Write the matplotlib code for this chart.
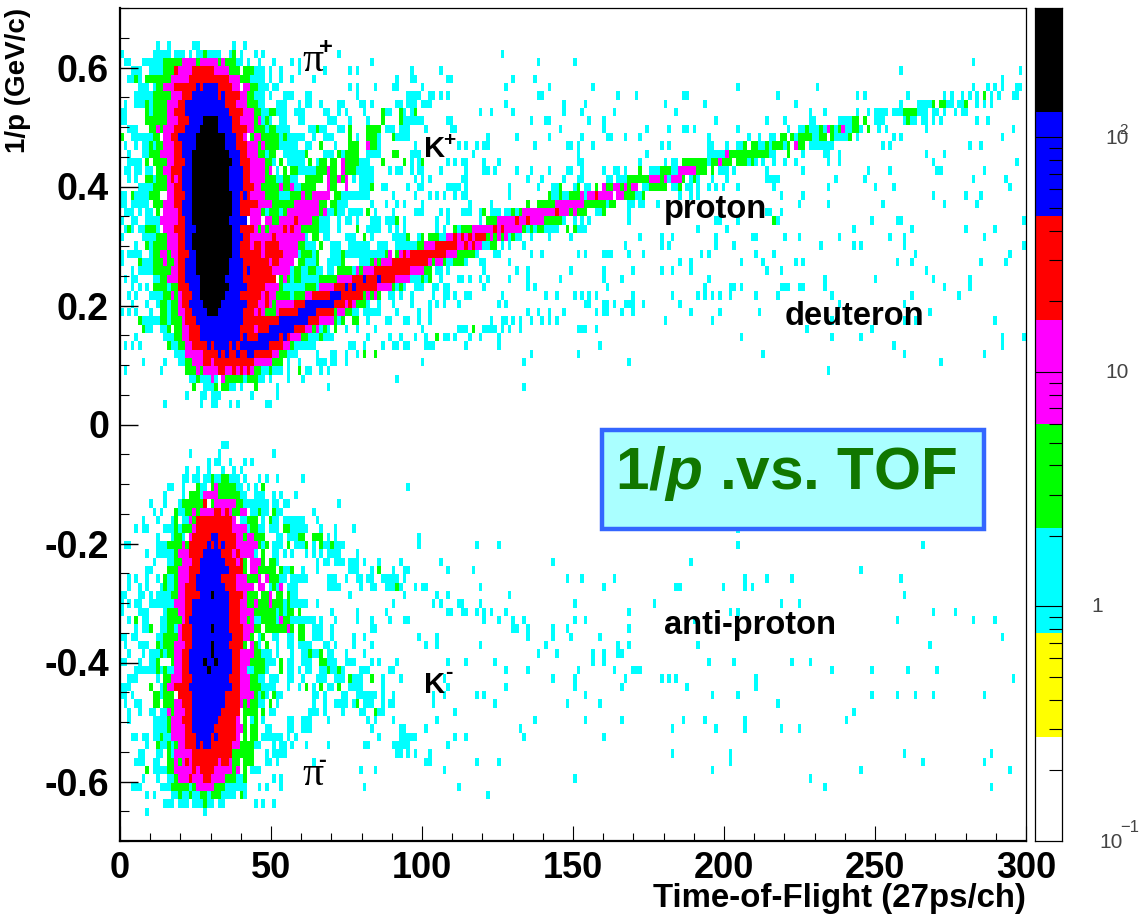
import numpy as np
import matplotlib
matplotlib.use('Agg')
import matplotlib.pyplot as plt
from matplotlib.colors import ListedColormap, BoundaryNorm
from matplotlib.patches import Rectangle
from matplotlib.ticker import LogLocator, NullFormatter, FixedLocator, FixedFormatter, MultipleLocator

plt.rcParams['font.family'] = ['Liberation Sans', 'DejaVu Sans']
plt.rcParams['mathtext.fontset'] = 'custom'
plt.rcParams['mathtext.rm'] = 'Liberation Sans:bold'
plt.rcParams['mathtext.it'] = 'Liberation Sans:bold:italic'

# histogram binning
n_tof_bins = 250
n_inv_p_bins = 100
tof_range = (0, 300)
inv_p_range = (0.7, -0.7)

# counts per colour band, c=cyan g=green m=magenta r=red b=blue k=black
band_counts = {'c': 1.0, 'g': 3.0, 'm': 10.0, 'r': 30.0, 'b': 80.0, 'k': 200.0}
level_edges = [0.1, 0.278, 0.772, 2.15, 5.97, 16.6, 46.0, 128.0, 356.0]
level_colors = ['#ffffff', '#ffff00', '#00ffff', '#00ff00', '#ff00ff', '#ff0000', '#0000ff', '#000000']

# bin runs per row, "g12:17" = green in tof bins 12..16, plain number = one cyan bin
# positive 1/p blob, rows 4 to 47
pi_plus_rows = [
    "c10:11 c13:14 c20:22 c31:32 c34:35",
    "c0:1 c9:14 c15:18 c19:20 c21:23 g23:24 c24:28 c30:31 g31:32 c33:34 c37:38 c39:40 c60:61",
    "c1:3 c6:12 g12:17 m17:21 g21:22 m22:27 g27:28 m28:29 g29:32 c32:34 c35:36 c38:39 c42:43 c47:48 c49:50 c69:70",
    "c3:6 c8:12 g12:15 r15:16 m16:20 r20:26 m26:30 g30:33 g34:37 c37:40 c41:42 c44:45 c49:50 c56:57 c63:64 c65:66",
    "c2:4 g4:5 c5:6 g7:14 m14:19 r19:30 m30:33 g33:36 c36:40 c41:42 c44:45 c47:48 c53:54 c76:77",
    "c5:8 c9:10 g10:12 m12:15 r15:21 b21:22 r22:23 b23:27 r27:31 m31:33 m34:36 g36:38 c38:41 c42:44 c63:64 c65:66 c70:71 c75:77",
    "c4:9 g9:14 m14:17 r17:20 b20:27 r27:28 b28:29 r29:33 m33:35 g35:37 c37:40 c41:42 c45:48 c51:53 c65:66",
    "c1:2 c4:7 g7:8 c8:9 g9:13 m13:16 r16:18 b18:29 r29:32 m32:35 g35:38 c38:40 c43:46 c49:50 c51:53 c55:56 c60:62 c66:68 c69:70 c76:78 c79:80",
    "c0:2 g7:8 c8:9 g9:13 m13:15 r15:18 b18:30 r30:34 m34:37 g37:39 c39:41 g41:43 c43:46 c48:51 c56:58 c60:61 c62:63 c67:68 g72:73 c73:75 g77:78 c78:79",
    "c0:2 g7:13 m13:16 r16:19 b19:23 k23:27 b27:31 r31:33 m33:37 g37:38 m38:39 c39:40 g40:41 c41:42 c44:46 c49:51 c57:60 c63:64 c68:69 g72:73 g77:78 c78:80",
    "c2:5 g8:10 m10:11 g11:12 m12:15 r15:18 b18:22 k22:27 b27:31 r31:35 m35:37 g37:40 c40:41 g41:43 c43:47 c52:54 g54:55 c55:57 c60:62 g63:64 g68:72 c73:76 c77:80",
    "g0:1 c3:9 g9:11 m12:14 r14:16 b16:21 k21:29 b29:32 r32:34 m34:35 g36:37 m37:39 g39:44 c44:45 g45:46 c46:51 c53:54 c56:59 g63:64 c65:66 g68:71 c71:72 g75:76 c76:80",
    "c1:2 c4:5 c6:8 g8:9 c9:10 g10:12 m12:15 r15:17 b17:21 k21:29 b29:32 r32:35 m35:38 g38:39 m39:40 g40:44 c44:49 c51:53 g55:56 c59:60 g63:66 m68:69 g69:71 c71:72",
    "c2:3 c6:8 g8:11 m11:15 r15:17 b17:20 k20:30 b30:33 r33:35 m35:38 g38:40 c40:41 g41:43 c45:51 g51:52 c56:59 g60:61 c61:62 g62:66 c68:72 g75:77",
    "c2:6 g7:8 g9:13 m13:15 r15:18 b18:20 k20:31 b31:33 r33:36 m36:40 g40:42 c42:43 g44:45 c46:51 g52:53 c54:55 g55:57 g58:60 m61:62 g62:66 c66:69 g72:73 g78:79",
    "c1:3 c4:6 c7:9 g10:12 m12:14 r14:17 b17:20 k20:30 b30:34 r34:36 m36:40 g40:41 m41:42 c43:44 g45:46 g47:49 c49:54 g54:57 m57:58 g58:60 m61:62 g62:65 c65:70 c74:75 c76:78",
    "c2:3 c4:5 g7:9 c9:10 g10:13 m13:14 r14:15 m15:16 r16:17 b17:20 k20:30 b30:34 r34:36 m36:40 g40:43 c43:45 g45:47 c47:49 g51:56 m57:58 g58:60 m60:61 g61:62 m62:63 c64:65 c66:70",
    "c5:9 g9:13 m13:15 r15:17 b17:20 k20:30 b30:34 r34:37 m37:39 g39:44 m44:45 g45:47 m47:48 c48:50 g50:54 m57:58 g58:60 m62:63 c66:69 g69:70 c72:74",
    "c0:2 g3:4 c4:8 g8:11 m13:15 r15:18 b18:20 k20:31 b31:33 r33:34 b34:35 r35:36 m36:40 g40:44 c44:47 g47:50 m50:51 g51:53 m53:58 g59:61 c61:69 c75:76",
    "c0:2 c3:8 g9:12 m12:15 r15:17 b17:20 k20:31 b31:33 r33:38 m38:42 g42:48 m48:55 g55:57 g58:60 c60:63 c69:70 c73:74 c76:77",
    "c1:4 c5:6 c7:9 g10:11 m12:16 r16:17 b17:20 k20:31 b31:33 r33:36 m36:39 g39:40 c40:41 g41:44 c44:45 g45:46 m46:55 g55:56 m56:57 c57:59 g59:60 c60:62 c63:67 g68:69 c70:71 c75:76",
    "c0:1 c3:5 c7:9 c9:11 m11:16 r16:18 b18:20 k20:30 b30:35 m36:39 m40:42 g42:44 m44:48 r48:49 m49:53 g53:55 c55:58 c60:61 c62:64 c65:66 c69:72 c73:76 g76:77 c78:79",
    "c1:2 g2:3 c3:4 c5:7 g7:10 c10:11 m12:15 r15:18 b18:21 k21:31 b31:33 r33:37 m37:38 g38:39 m39:40 g40:41 m41:45 r45:46 m46:47 r47:48 m48:50 g50:55 c55:58 c60:61 g65:66 c68:72 c74:75 c76:77",
    "c0:1 c6:10 g10:13 m13:16 r16:18 b18:20 k20:31 b31:34 r34:36 m36:42 r42:43 m43:51 c51:52 g53:55 c56:58 c62:65 g67:68 c69:70 c75:79 g79:80",
    "c4:5 g7:8 c8:9 g9:13 m13:16 r16:18 b18:20 k20:31 b31:33 r33:36 m36:37 r37:39 m39:40 r40:44 m44:49 g49:51 c51:54 g55:56 c58:61 c63:69 c71:74 c76:80",
    "c0:1 c2:6 c8:9 g9:11 m11:13 g13:14 m14:16 r16:19 b19:21 k21:31 b31:33 r33:39 m39:40 r40:45 m45:49 c49:50 g50:53 c53:54 g54:55 c58:61 g61:62 c62:73 g73:74 m74:75 g76:77 m77:78 g78:79 m79:80",
    "c0:1 g5:6 c6:9 g9:12 m12:13 g13:15 m15:16 r16:18 b18:21 k21:30 b30:34 r34:41 m41:42 r42:44 m44:48 g49:51 c51:54 g54:55 c57:61 g61:62 c66:69 g69:70 m70:71 g71:72 m72:75 r75:80",
    "c3:4 c5:9 g9:14 m14:16 r16:18 b18:21 k21:30 b30:34 r34:35 b35:36 r36:42 m42:47 c47:48 g48:50 c50:52 g52:54 c54:56 c57:59 g60:64 c64:65 m65:66 g66:67 m67:70 r70:80",
    "c1:2 c3:5 c9:11 g11:13 m13:16 r16:18 b18:22 k22:29 b29:34 r34:43 g44:45 m45:46 g46:47 c47:48 g48:50 c50:55 g55:60 m60:64 r64:67 b67:68 r68:71 b71:72 r72:76 m76:80",
    "c3:4 c5:6 c7:8 g9:13 c13:14 g14:16 r16:19 b19:22 k22:30 b30:35 r35:40 m40:44 g44:45 c45:51 g51:54 c54:55 m55:59 r59:62 b62:63 r63:64 b64:65 r65:71 m71:75 g75:76 c76:77 g77:78 c78:79",
    "c2:3 c4:5 c8:12 g12:14 m14:15 g15:16 m16:17 r17:20 b20:22 k22:29 b29:33 r33:39 m39:40 r40:41 m41:43 g43:47 c47:48 g48:51 m51:53 r53:58 b58:61 r61:67 g67:68 m68:69 g69:70 m70:71 g71:72 c74:76 c77:78",
    "c3:4 c7:8 c10:11 g11:13 c13:14 g14:16 m16:17 r17:19 b19:23 k23:28 b28:35 r35:38 m38:40 r40:41 m41:42 g42:43 m43:48 r48:51 b51:59 r59:62 m62:63 r63:64 m64:65 g65:68 c68:69 c71:72 c75:76",
    "c0:1 c2:3 c4:5 c8:9 g11:13 c13:14 g14:16 m16:18 r18:20 b20:24 k24:27 b27:34 r34:37 m37:38 r38:39 m39:40 g40:43 m43:44 r44:49 b49:54 r54:59 g59:60 m60:62 g62:64 c64:66 c67:72 c76:77",
    "g5:6 c6:11 g11:13 c13:14 g14:17 m17:18 r18:21 b21:34 r34:44 b44:52 r52:55 m55:59 g59:60 c60:61 g61:62 g64:66 c68:69 c73:75 c79:80",
    "g6:7 c7:9 c11:13 g13:14 g15:17 m17:19 r19:22 b22:33 r33:37 m37:38 r38:41 b41:48 r48:51 m51:53 g53:54 m54:55 c55:56 g56:57 c57:58 g59:60 c62:63 c65:66 c70:71",
    "c4:5 c12:15 g15:17 m17:19 r19:22 b22:33 r33:34 b34:35 r35:38 b38:44 r44:45 b45:46 r46:47 m47:50 g50:52 c52:55 g55:56 c56:59 c68:69 c74:75 c77:78",
    "c1:2 c3:4 c5:6 g13:14 c14:16 g16:18 m18:20 r20:24 b24:25 r25:26 b26:30 r30:31 b31:32 r32:33 b33:41 r41:45 m45:47 g47:48 c48:54 c63:65 c67:68 c72:73 c75:77",
    "c15:18 m18:23 r23:27 b27:28 r28:29 b29:30 r30:32 b32:33 r33:35 b35:37 r37:42 m42:44 g44:46 c46:49 c54:55 c58:60 c62:63 c65:66 g67:68 g70:71",
    "c6:7 c12:13 c16:18 g18:20 m20:23 r23:25 m25:26 r26:37 m37:42 g42:45 c46:47 c49:50 c54:57 c58:60 c62:63",
    "c1:2 c11:12 g18:21 m21:22 g22:23 m23:27 r27:29 m29:31 r31:32 m32:33 r33:34 m34:35 r35:36 m36:37 g37:39 c39:41 g41:42 c42:45 c46:47 g49:50 c51:53 c55:56 c57:58",
    "c19:21 g21:22 c22:25 m25:26 c26:27 m28:29 g29:34 c34:35 g35:38 c38:40 c41:42 c46:47 c50:51 c76:77",
    "g20:21 c23:26 g26:27 g28:30 c30:32 c33:34 g37:38 c43:44 c57:58",
    "c18:19 c22:24 c25:28 c36:37 c43:44",
    "c12:13 c22:23 c25:27 c30:31 c32:33 c40:42",
]
pi_plus_first_row = 4

# negative 1/p blob, rows 52 to 96
pi_minus_rows = [
    "c28:30",
    "c19:20 c27:28 c42:43",
    "c24:25 c26:28 c30:31 c34:35 c36:37",
    "c18:19 c21:22 c24:25 c28:29 c31:32 c33:34",
    "c17:19 c20:22 c23:25 g25:26 c26:28 g28:30 c30:33 c34:35 c38:39 c40:41 c43:44 c50:51",
    "c13:15 c17:18 g21:22 c22:24 g25:26 m26:27 g27:32 c32:34 c35:36 c37:38 g39:40 c79:80",
    "c12:13 c17:18 g19:22 c22:23 m23:27 g27:33 c33:35 c37:40 c42:43 c44:45 c48:49",
    "c8:9 c12:13 c16:17 g17:23 r23:24 g25:26 m26:32 g32:34 c34:41 c42:44 c45:47 c60:61",
    "c9:10 c11:12 g15:16 c16:18 g18:20 m20:21 g21:22 m22:26 r26:28 m28:29 r29:30 m30:31 g31:33 m33:35 c36:38 g38:39 c39:41 g42:43 c43:45 c53:54",
    "c6:7 c10:11 c14:15 g15:16 c17:19 m19:20 g20:21 r21:31 m31:32 c33:35 g35:38 c39:40 g41:42 c42:44 c45:51 c54:55",
    "c4:5 c6:8 c12:14 c14:15 g15:16 c16:17 g17:20 m20:21 r21:31 m31:35 c35:36 g36:38 c38:40 c41:44 g45:47 c47:52 c55:56 c59:60 c64:65",
    "c10:11 c14:15 g15:17 c17:18 m19:20 r20:25 b25:27 r27:32 m32:34 g34:35 m35:37 g37:40 c43:45 c46:49 g49:51 g53:56 c57:58 c59:60",
    "c1:3 c10:13 g13:17 m17:18 g18:19 r19:24 b24:25 r25:26 b26:27 r27:28 b28:29 r29:32 m32:38 g38:39 c39:40 g40:41 c42:45 g46:47 c48:51 g51:52 c53:54 g55:56 c56:58 g58:59 c59:62",
    "c7:8 c10:15 g15:16 m16:19 r19:23 b23:28 r28:31 m31:32 r32:33 m33:37 c37:38 g39:40 c42:44 c45:46 c47:48 c51:52 c53:54 c55:56 c57:61 c65:66",
    "c9:10 c13:15 g15:17 m17:20 r20:22 b22:29 r29:32 m32:33 r33:34 g34:35 m36:39 g39:40 g41:43 c43:44 c54:55 c56:58 c59:62 c63:66 c67:68 c71:72 c77:78",
    "c7:9 g13:16 m16:19 r19:22 b22:30 r30:34 g34:35 m36:38 g38:43 g44:45 c45:47 g47:48 c50:51 c54:55 c63:66 c69:70 g71:72 c75:76 c79:80",
    "c2:3 c4:5 c7:8 c10:11 g12:13 c13:15 g15:16 m16:19 r19:21 b21:28 r28:32 m32:35 g35:38 m38:39 m40:41 g41:44 c44:46 c47:52 c57:60 c62:63 c65:67 c68:70 c72:77 c78:79",
    "c2:3 c5:6 c7:8 c11:12 g12:13 c13:15 g15:16 m16:18 r18:21 b21:29 r29:32 m32:37 m38:40 c41:42 g42:43 c43:44 m44:45 c46:49 c57:61 c66:67 c69:71 c73:76 g76:77 c77:78",
    "c0:2 c5:7 c8:9 c10:14 g14:16 m16:18 r18:22 b22:25 k25:26 b26:30 r30:34 m34:35 g35:38 g39:41 m41:42 g43:45 g46:47 c47:49 c63:64 c78:79",
    "c0:1 c2:3 c4:6 c8:15 m15:18 r18:20 b20:30 r30:33 m33:35 g35:37 m37:38 g38:41 m41:42 g42:45 c45:46 g46:47 c47:52 c54:55 c75:76",
    "c0:1 c5:8 c12:13 g13:16 m16:18 r18:20 b20:30 r30:33 m33:37 g37:43 c43:44 g44:45 c45:46 g46:48 g49:50 c58:59 c65:66 c73:74",
    "c2:3 g4:5 c6:8 c11:13 g13:17 m17:18 r18:19 b19:30 r30:33 m33:35 g35:36 m36:37 c37:39 g39:43 c43:44 m44:45 g45:47 c47:54 c55:56 c59:60 c65:66 c69:70 c74:75 c78:80",
    "c4:5 c6:8 g8:9 c11:13 g13:15 c15:16 m16:17 r17:20 b20:25 k25:26 b26:30 r30:34 m34:37 g37:39 g40:46 m46:47 g47:48 g49:51 c53:56 c58:59 c69:71",
    "c0:2 c3:5 c10:12 g12:16 m16:17 r17:20 b20:31 r31:34 m34:36 g36:37 c38:39 g39:40 c42:44 c46:48 g49:51 c53:56 c58:59 c64:65 c67:68",
    "c1:2 c5:8 g10:11 c11:12 g12:15 m15:18 r18:20 b20:25 k25:26 b26:30 r30:34 g34:35 m36:37 g37:38 c38:39 g40:41 c43:44 c46:48 c49:53 c56:58 c59:60 c64:65 c69:70",
    "c2:3 c6:7 c8:11 g11:12 c12:13 g13:15 m15:17 r17:19 b19:25 k25:26 b26:31 r31:33 m33:37 g37:39 c39:42 c43:44 c47:48 c50:52 g52:53 c53:55 g55:56 c57:59 c62:63 c67:68",
    "c0:2 c5:6 c8:10 g10:11 g14:15 m15:17 r17:19 b19:23 k23:24 b24:26 k26:27 b27:31 r31:33 m33:36 g36:40 c40:43 g44:45 c46:48 c50:53 g55:57 c57:60 c62:65 c69:70 c71:72 c76:77",
    "c4:10 g10:11 c11:12 g12:13 c13:15 m15:17 r17:19 b19:24 k24:25 b25:31 r31:33 m33:35 c35:37 g37:40 c40:41 g44:45 c46:48 c49:50 c51:53 c55:57 g57:58 c58:60 g60:61 c61:62 c66:69 c74:76",
    "c2:5 c10:11 g12:14 m14:17 r17:20 b20:30 r30:33 m33:36 g36:38 c38:40 c41:44 c46:48 c50:51 c54:57 c59:62 g63:64 c64:67 g69:70 c72:73 c77:78",
    "c0:3 g8:9 c11:12 g12:13 m13:15 r15:19 b19:31 r31:33 m33:36 g36:39 c39:43 c46:47 c49:50 g51:52 c53:54 g55:56 c57:59 g60:61 c63:67 c72:73",
    "c0:2 c3:4 g9:11 c11:12 g12:15 r16:20 b20:29 r29:33 m33:37 g37:38 c38:39 g39:40 c40:41 g42:43 c43:45 c53:55 c56:57 c61:63 c65:71 c72:73 c75:76",
    "c1:2 c4:6 g9:11 g12:15 m15:17 r17:20 b20:29 r29:33 m33:34 g34:35 m35:36 g36:38 c38:40 g41:42 c43:44 c53:54 c56:57 c59:63 c64:65 g65:66 c67:70 c72:73 c74:76",
    "c2:3 c5:6 c8:10 c11:13 m13:14 g14:15 m15:18 r18:20 b20:28 r28:33 g34:38 g39:40 c41:43 c52:55 c56:57 c61:62 c66:68 g70:71 c71:73",
    "c2:3 c9:13 g13:14 m14:17 r17:20 b20:27 r27:32 m32:33 g34:35 c36:37 g37:38 c39:40 c46:48 c50:53 c57:58 c68:69 c70:71 c75:76",
    "c9:13 g13:14 m14:18 r18:20 b20:26 r26:32 m32:34 g34:35 g36:38 c40:42 c46:48 c50:53 c69:70",
    "c3:5 c6:8 c9:11 g11:12 c12:14 m14:18 r18:21 b21:25 r25:26 b26:27 r27:32 m32:33 g34:35 g36:38 c39:45 c46:47 c48:49 c71:72 c77:80",
    "c7:8 g10:11 c11:13 g13:14 c14:15 g15:16 m16:18 r18:21 b21:22 r22:23 b23:25 r25:31 m31:33 g33:37 c37:39 c42:43 c44:46 c47:48 c51:52 c57:58 c67:69 c75:77 c78:79",
    "c5:7 c10:12 g13:14 c14:15 m15:20 r20:31 g31:37 c40:41 c42:46 c76:78 c79:80",
    "c4:7 c9:11 g13:15 m15:16 g16:17 m17:18 r18:19 m19:20 r20:27 m27:28 r28:30 m30:31 g31:33 g34:37 c40:42 c43:44 c53:54",
    "g7:8 c9:13 g13:15 m15:20 r20:21 m21:22 r22:26 m26:31 g31:32 m32:33 g34:35 c36:39 c66:67 c70:71",
    "c6:7 c10:11 c13:15 g15:16 m16:19 r19:20 m20:23 r23:25 m25:29 g29:32 c32:34 g34:35 c42:43 c44:45",
    "c3:6 c11:14 g14:19 c19:20 g20:21 m21:26 g26:29 c29:35 c38:39 c40:41 c44:45 c67:68",
    "c7:8 c9:10 c14:16 g16:17 c17:19 g19:20 c20:22 g22:24 c24:25 g25:28 c28:32 g33:34 c34:35",
    "c12:15 c16:19 c20:23 g23:24 c24:26 c27:29 c37:38 c39:40 c42:43",
    "c7:8 c23:24",
]
pi_minus_first_row = 52

# proton band and scatter to the right of bin 77, rows 5 to 45
band_rows = [
    "105",
    "115 125 235",
    "80 88 215 248",
    "80 81 90 91 108 114 243",
    "83 106 118 130 170 192 235 239 241 243 247 248",
    "79:83 85 86 88 90 115 116 137 142 155 156 181 203 205 217 227 229 232 234 236 g238 240 242 246 247",
    "79:82 83:86 106 122 128 150 161 186 215 220:224 g224 g226 g227 228 229 231:233 g233 236 238 240",
    "80 g81 99 102 108 122 127 136 153 190 194 203 206 208:212 213:216 g216:220 220:223 224 225 227 230 232 233",
    "80:84 90 91 113 117 118 129 133 164 178 183 190 191 198:202 g202:204 g205 208 209 210 216 g217 218 219 221 222 224 226 236 239",
    "84 91 92 121 133 145 151 155 156 158 170 184 187 188 g189 190:193 g193 194 m195 g196 197 g198 m199 200 201 g202 g203 204 g206 209 211 222 246",
    "101 109 118 127 134 135 139 143 162 173 176 179 180 g182 g183 g185 186 g187:191 191 192 g193 g194 g196 197:201 g201 203 213 215 243",
    "81 93 95 98 100 101 114 123 124 126 130 149 151 162 163 167 170 171 g172 g174 g175 176 177 g178 179 g180:183 183 g184 m186 g187 g188 190:197 210 212 234 237",
    "80:83 97 126 145 162 163 164:167 m167 g168:179 179 180 g184 188 194 195 198 222 227",
    "g78 80 82 g83 90 92 94 95 100 104 126 127 143 150 152 153 g155:162 162 g163 g164 m165 g166:169 g170:173 173 g174 175 177 180 183 186 195 198 224 247",
    "77 80 82 83 88 95 100 101 103 109 113 118 123 124 127 133 136 137 139 g143 146:149 g149:152 152 153 m154:159 g159:162 g163 165:168 169 178 188 206 212 225 226 238",
    "81 83 85 94 95 112 116 122 126 127 134 135 137:140 g140:146 m146:149 g149 m150 151 m152:155 g155 157 g158 159 163 167 178:182 197 205 235 244",
    "79 82 83 90:94 95 107 115 119 120 g121 125 g126 128 129 g131 m133 g134 g135 m136 m137 g138 m139 g140 m141 m142 144 145 g146:151 152 153 g154 156 157 159 162 164 166 170 180 195 208 213 245",
    "81 85 87 89 92 94 95 107 g118 119 120 g121 122 123 g124:127 m127 128 m129 m130 r131 m132:136 m137 m138 g139:142 142 143 g144 154 157 159 182 188 224 233 237",
    "78 83 96 102 g112 g115:120 m120:128 g128:134 134 g135 g136 140 141 143 144 148 187 195 210 227 236",
    "81:84 88 90 94:97 99 g100 102:105 106 107 g108 109 g110 m111:114 m114:120 r120 m121:124 g124 m125 g126:129 131 132 g133 140 178 179 182",
    "78 87 90 99 g101:104 m104:109 r109 m110 m111 r112 m113:117 g117:122 122 125 127 129 140 164 165 170 g180 181 207 214 215 249",
    "78 87 89 g92 93 g94:97 m97:103 r103 m104 r105 m106:111 g111 112 g113 114 g115 g116 117:121 g123 g125 126:129 159 167 202 218 233 241",
    "77 g79 82 g83 g85:88 88 89 m90 m91 r92 m93 r94 m95 r96 m97 r98:101 g101 m102 g103 m104 g105 m106 107 g108 109 110 113 118 124 143 149 152 164 174 175 183 187 198 212 216 238",
    "77:82 g82 g83 m84:87 r87:93 m93 m94 r95 m96 r97 m98 m99 100 101 g102 g103 105 107 111 139 149 151 164 169 193 202 204 216 249",
    "m77 r78 m79 r80:90 m90:93 g93:98 98 103 104 113 116 126 128 133:136 140 144 160 162 175 180 219 245",
    "r77:85 m85 g86 m87 m88 g89 90 91 g92:95 95 99 100 107 154 157 171 177 186 188 214 218 237 244",
    "r77:80 m80:84 g84 g85 87 88 90 100 109 112 124 133 141 149 152 157 178 182 222",
    "m77:80 80:83 g83 84 g85 88 93 94 96 99 101 107 112 121 133 138 162 194 208 224 234",
    "g77 81:84 86 87 89 90 100 112 114 134 161 168 169 171 182:185 187 188 194 227 234",
    "77 80 86 89 90 92 95 96 105 117 120 125 127 129 131 141 152 159 161 163 165 168 175 181 196 218 231",
    "80 85 87 89 93 104 106 128 129 133 134 136 139:142 144 154 198 216",
    "82 85 112 115 118 122 131 133 134 138 141 157 165 176 223",
    "78 79 82 85 102 105 106 108 110 113 116 118 120 150 163 196 216 219 241",
    "83 93:96 g97 100:104 105 107 110 126:129 131 189 207",
    "77 81 84 g87 89 90 92 96 99 104 171 196 204 243 249",
    "78 79 84:87 95 104 132 213 243",
    "113 126 177 216 238",
    "83 111 140 226",
    "195",
    "",
    "111",
]
band_first_row = 5

# scatter to the right of bin 77 below zero, rows 62 to 94
tail_rows = [
    "170",
    "82",
    "82 98 104 170 221",
    "",
    "77 88 119 157",
    "78 79 90 97 204",
    "78 123 127 136 172 178 185 215",
    "77 81 83 84 99 133 153 154 166 172 174",
    "78 87 90 107 216",
    "86 88 93 94 99 125 147 182 187",
    "90 91 94 95 98 100 102 106 140 168 170 224 230",
    "78 79 100 104 108 111 125 128 158 214 235 241",
    "108 109 112 119 123 140",
    "82 87 112 119 124 132 243",
    "84 87 99 117 137 140 159 223",
    "115 120 130 133 137 138",
    "90 95 103 130 133 162 169 185 190",
    "106 112 126 136 141:144 196 207 217 225",
    "77 89 119 125 139 149 151 153 175 246",
    "90 106 125 138 156 175",
    "86 89 98 100 128 163 170 207 214 219 224 238",
    "86 103 123 132 181",
    "92 202",
    "87 114 128 138 155 161 172 200",
    "77 78 84 110 152 164 172 182 187",
    "78 80 81 92 95 111 133",
    "77 79 90",
    "81 85 152 168 216 240",
    "84 85 98 104 168 221 238",
    "89 163 204 245",
    "125 190",
    "93 194 240",
    "101",
]
tail_first_row = 62

x_tick_values = [0, 50, 100, 150, 200, 250, 300]
x_tick_labels = ['0', '50', '100', '150', '200', '250', '300']
y_tick_values = [-0.6, -0.4, -0.2, 0, 0.2, 0.4, 0.6]
y_tick_labels = ['-0.6', '-0.4', '-0.2', '0', '0.2', '0.4', '0.6']


def fill_rows(grid, rows, first_row):
    for i, row in enumerate(rows):
        for tok in row.split():
            band = tok[0] if tok[0].isalpha() else 'c'
            span = tok.lstrip('cgmrbk').split(':')
            start = int(span[0])
            stop = int(span[1]) if len(span) == 2 else start + 1
            grid[first_row + i, start:stop] = band_counts[band]


counts = np.zeros((n_inv_p_bins, n_tof_bins))
fill_rows(counts, pi_plus_rows, pi_plus_first_row)
fill_rows(counts, pi_minus_rows, pi_minus_first_row)
fill_rows(counts, band_rows, band_first_row)
fill_rows(counts, tail_rows, tail_first_row)

tof_edges = np.linspace(tof_range[0], tof_range[1], n_tof_bins + 1)
inv_p_edges = np.linspace(inv_p_range[0], inv_p_range[1], n_inv_p_bins + 1)

cmap = ListedColormap(level_colors)
cmap.set_under('white')
norm = BoundaryNorm(level_edges, cmap.N)

W, H = 1147, 914
fig = plt.figure(figsize=(W / 100, H / 100), dpi=100)
ax = fig.add_axes([120 / W, 1 - 841 / H, 906 / W, 833 / H])
ax.pcolormesh(tof_edges, inv_p_edges, counts, cmap=cmap, norm=norm, antialiased=False, linewidth=0)
ax.set_xlim(0, 300)
ax.set_ylim(-0.7, 0.7)

ax.xaxis.set_major_locator(FixedLocator(x_tick_values))
ax.xaxis.set_major_formatter(FixedFormatter(x_tick_labels))
ax.xaxis.set_minor_locator(MultipleLocator(10))
ax.yaxis.set_major_locator(FixedLocator(y_tick_values))
ax.yaxis.set_major_formatter(FixedFormatter(y_tick_labels))
ax.yaxis.set_minor_locator(MultipleLocator(0.05))
ax.tick_params(axis='x', which='major', direction='in', length=11, width=0.8, labelsize=26, pad=7)
ax.tick_params(axis='x', which='minor', direction='in', length=6, width=0.8)
ax.tick_params(axis='y', which='major', direction='in', length=13, width=1.0, labelsize=27, pad=8)
ax.tick_params(axis='y', which='minor', direction='in', length=6.5, width=0.8)
for lab in ax.get_xticklabels() + ax.get_yticklabels():
    lab.set_fontweight('bold')
ax.spines['left'].set_linewidth(1.6)
ax.spines['bottom'].set_linewidth(1.6)
ax.spines['top'].set_linewidth(0.9)
ax.spines['right'].set_linewidth(0.9)

fig.text(18 / W, 1 - 8 / H, '1/p (GeV/c)', rotation=90, ha='center', va='top', fontsize=20, fontweight='bold')
fig.text(1026 / W, 1 - 899 / H, 'Time-of-Flight (27ps/ch)', ha='right', va='center', fontsize=23.8, fontweight='bold')

# particle labels
ax.text(60.5, 0.612, '\u03c0', fontsize=30, family='Liberation Serif', ha='left', va='center')
ax.text(68.2, 0.634, '+', fontsize=17, fontweight='bold', ha='center', va='center')
ax.text(100.5, 0.463, 'K', fontsize=21, fontweight='bold', ha='left', va='center')
ax.text(109, 0.477, '+', fontsize=15, fontweight='bold', ha='center', va='center')
ax.text(180, 0.362, 'proton', fontsize=23.5, fontweight='bold', ha='left', va='center')
ax.text(220, 0.182, 'deuteron', fontsize=23.5, fontweight='bold', ha='left', va='center')
ax.text(180, -0.338, 'anti-proton', fontsize=23.5, fontweight='bold', ha='left', va='center')
ax.text(100.5, -0.438, 'K', fontsize=21, fontweight='bold', ha='left', va='center')
ax.text(109, -0.417, '-', fontsize=16, fontweight='bold', ha='center', va='center')
ax.text(60.5, -0.588, '\u03c0', fontsize=30, family='Liberation Serif', ha='left', va='center')
ax.text(67, -0.565, '-', fontsize=17, fontweight='bold', ha='center', va='center')

ax.add_patch(Rectangle((159.5, -0.176), 126.5, 0.167, facecolor='#aaffff', edgecolor='#3366ff', linewidth=3.2, zorder=3))
ax.text(220.5, -0.082, r'$\mathrm{1/}\mathit{p}$ .vs. TOF', fontsize=43.5, fontweight='bold', color='#117700',
        ha='center', va='center', zorder=4)

# palette on the right, log scale
cax = fig.add_axes([1035 / W, 1 - 841 / H, 27 / W, 833 / H])
cax.pcolormesh([0, 1], level_edges, np.arange(len(level_colors)).reshape(-1, 1),
               cmap=cmap, vmin=-0.5, vmax=len(level_colors) - 0.5, antialiased=False, linewidth=0)
cax.set_yscale('log')
cax.set_ylim(level_edges[0], level_edges[-1])
cax.set_xlim(0, 1)
cax.set_xticks([])
cax.yaxis.set_major_locator(FixedLocator([1, 10, 100]))
cax.yaxis.set_minor_locator(LogLocator(base=10, subs=range(2, 10), numticks=12))
cax.yaxis.set_major_formatter(NullFormatter())
cax.yaxis.set_minor_formatter(NullFormatter())
cax.yaxis.tick_right()
cax.tick_params(axis='y', which='major', direction='in', length=19.5, width=0.8, right=True, left=False)
cax.tick_params(axis='y', which='minor', direction='in', length=9.5, width=0.8, right=True, left=False)
for side in cax.spines.values():
    side.set_linewidth(0.9)

label_color = '#444444'
fig.text(1117 / W, 1 - 138 / H, '10', fontsize=15, color=label_color, ha='center', va='center')
fig.text(1123 / W, 1 - 130 / H, '2', fontsize=11, color=label_color, ha='center', va='center')
fig.text(1117 / W, 1 - 373 / H, '10', fontsize=15, color=label_color, ha='center', va='center')
fig.text(1097 / W, 1 - 607 / H, '1', fontsize=15, color=label_color, ha='center', va='center')
fig.text(1111 / W, 1 - 842 / H, '10', fontsize=15, color=label_color, ha='center', va='center')
fig.text(1130 / W, 1 - 827 / H, '\u22121', fontsize=12, color=label_color, ha='center', va='center')

fig.savefig('out.png', dpi=100)
